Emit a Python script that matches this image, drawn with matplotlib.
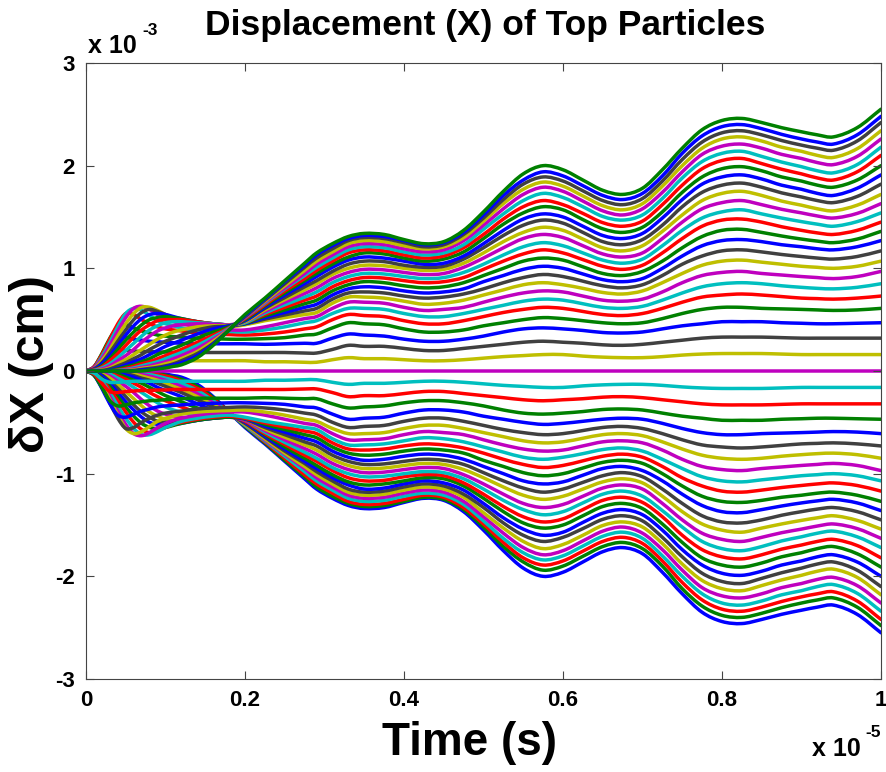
import numpy as np
import matplotlib
matplotlib.use("Agg")
import matplotlib.pyplot as plt
from matplotlib.path import Path
from matplotlib.patches import PathPatch

plt.rcParams['font.family'] = ['Liberation Sans', 'DejaVu Sans']
plt.rcParams['font.weight'] = 'bold'

# time in units of 1e-5 s, displacement in units of 1e-3 cm
# upper half of the particles (k = 1 .. 25 away from the centre); lower half is the mirror image
early_t = [0, .01, .02, .03, .04, .05, .06, .07, .08, .09, .10, .11, .12, .14, .16, .18, .20]
early_lines = [
    [0, .02, .08, .11, .11, .105, .10, .10, .10, .10, .10, .10, .10, .10, .10, .10, .10],
    [0, .03, .12, .20, .21, .20, .195, .19, .19, .185, .185, .18, .18, .18, .18, .18, .18],
    [0, .04, .16, .29, .34, .33, .31, .30, .29, .285, .28, .275, .27, .265, .265, .265, .265],
    [0, .04, .17, .32, .43, .45, .42, .39, .37, .35, .34, .335, .33, .32, .315, .31, .31],
    [0, .04, .16, .31, .46, .56, .55, .50, .46, .43, .41, .40, .39, .37, .36, .355, .35],
    [0, .03, .14, .28, .43, .56, .61, .59, .54, .49, .46, .44, .42, .40, .39, .385, .38],
    [0, .03, .12, .25, .39, .52, .61, .63, .60, .55, .51, .48, .46, .43, .41, .40, .40],
    [0, .02, .10, .21, .34, .46, .56, .62, .62, .59, .55, .52, .49, .46, .44, .43, .45],
    [0, .02, .08, .18, .29, .40, .50, .57, .60, .58, .55, .52, .50, .47, .45, .44, .46],
    [0, .015, .07, .15, .25, .35, .44, .51, .55, .56, .55, .53, .51, .48, .46, .45, .46],
    [0, .01, .05, .12, .21, .30, .38, .45, .50, .52, .53, .52, .51, .48, .46, .45, .465],
    [0, .01, .04, .10, .17, .25, .33, .40, .45, .49, .50, .50, .50, .48, .46, .45, .47],
    [0, .005, .03, .07, .13, .20, .27, .34, .40, .44, .47, .48, .48, .47, .46, .45, .47],
    [0, 0, .02, .05, .10, .15, .21, .28, .34, .39, .42, .44, .45, .46, .455, .45, .48],
    [0, 0, .01, .03, .07, .11, .16, .21, .26, .31, .35, .38, .40, .43, .44, .445, .48],
    [0, 0, .005, .02, .05, .08, .12, .16, .21, .25, .29, .32, .35, .40, .43, .44, .49],
    [0, 0, 0, .01, .03, .06, .09, .12, .16, .20, .24, .27, .30, .36, .41, .44, .49],
    [0, 0, 0, .005, .02, .04, .06, .09, .12, .16, .19, .22, .25, .32, .38, .43, .50],
    [0, 0, 0, 0, .01, .025, .045, .07, .09, .12, .15, .18, .21, .28, .35, .42, .51],
    [0, 0, 0, 0, .005, .015, .03, .05, .07, .09, .12, .15, .18, .25, .33, .415, .52],
    [0, 0, 0, 0, 0, .01, .02, .035, .05, .07, .09, .12, .15, .22, .31, .41, .52],
    [0, 0, 0, 0, 0, .005, .01, .025, .035, .05, .07, .09, .12, .19, .29, .405, .53],
    [0, 0, 0, 0, 0, 0, .005, .015, .025, .035, .05, .07, .10, .17, .27, .40, .53],
    [0, 0, 0, 0, 0, 0, 0, .01, .015, .025, .04, .06, .08, .15, .26, .40, .54],
    [0, 0, 0, 0, 0, 0, 0, 0, .01, .02, .03, .045, .06, .13, .25, .40, .55],
]

late_t = [.225, .25, .275, .29, .31, .33, .35, .375, .40, .425, .45, .475, .50, .525, .55,
          .575, .60, .625, .65, .675, .70, .725, .75, .775, .80, .825, .85, .875, .90, .92,
          .94, .97, 1.0]
# one row per time, values for k = 1 .. 25
late_rows = [
    [.09, .18, .26, .315, .36, .40, .43, .49, .505, .52, .535, .55, .565, .58, .595, .61, .62, .635, .645, .66, .67, .68, .69, .70, .71],
    [.09, .18, .265, .325, .38, .43, .47, .52, .546, .57, .595, .62, .645, .67, .695, .715, .74, .76, .78, .80, .81, .83, .85, .87, .88],
    [.085, .175, .27, .35, .41, .47, .51, .55, .585, .62, .655, .69, .72, .755, .79, .82, .85, .88, .90, .93, .95, .98, 1.01, 1.03, 1.05],
    [.085, .175, .27, .36, .43, .49, .53, .57, .61, .65, .69, .73, .77, .81, .85, .88, .92, .95, .98, 1.01, 1.04, 1.07, 1.10, 1.13, 1.15],
    [.11, .21, .32, .42, .50, .56, .61, .66, .70, .74, .78, .82, .86, .90, .94, .97, 1.01, 1.04, 1.07, 1.10, 1.13, 1.16, 1.19, 1.22, 1.24],
    [.13, .25, .36, .47, .55, .61, .67, .72, .76, .80, .84, .88, .92, .96, 1.00, 1.04, 1.08, 1.11, 1.15, 1.18, 1.21, 1.24, 1.27, 1.29, 1.31],
    [.12, .24, .35, .46, .54, .61, .67, .72, .77, .82, .87, .91, .95, .99, 1.03, 1.07, 1.11, 1.15, 1.18, 1.21, 1.24, 1.27, 1.30, 1.32, 1.34],
    [.12, .24, .34, .45, .53, .60, .66, .71, .76, .81, .86, .905, .945, .985, 1.025, 1.065, 1.10, 1.14, 1.17, 1.20, 1.23, 1.26, 1.29, 1.31, 1.33],
    [.11, .22, .31, .41, .49, .56, .62, .68, .73, .78, .83, .88, .92, .96, 1.00, 1.03, 1.07, 1.10, 1.13, 1.16, 1.19, 1.22, 1.25, 1.27, 1.28],
    [.10, .20, .29, .38, .46, .53, .59, .65, .71, .76, .81, .86, .90, .94, .98, 1.01, 1.04, 1.07, 1.10, 1.13, 1.16, 1.19, 1.21, 1.23, 1.24],
    [.10, .20, .29, .38, .46, .53, .60, .66, .72, .77, .82, .87, .91, .95, .99, 1.02, 1.05, 1.09, 1.12, 1.15, 1.18, 1.21, 1.23, 1.25, 1.26],
    [.11, .22, .31, .40, .49, .56, .62, .69, .75, .80, .86, .91, .96, 1.01, 1.05, 1.09, 1.12, 1.16, 1.20, 1.23, 1.27, 1.30, 1.33, 1.35, 1.37],
    [.125, .24, .34, .44, .53, .60, .67, .74, .80, .87, .93, .99, 1.04, 1.10, 1.15, 1.20, 1.24, 1.29, 1.33, 1.38, 1.42, 1.46, 1.49, 1.52, 1.55],
    [.14, .26, .38, .47, .57, .64, .72, .79, .86, .93, 1.00, 1.07, 1.13, 1.20, 1.26, 1.32, 1.37, 1.43, 1.48, 1.53, 1.58, 1.63, 1.67, 1.71, 1.75],
    [.15, .28, .41, .50, .60, .68, .76, .84, .91, .99, 1.07, 1.14, 1.21, 1.29, 1.35, 1.42, 1.48, 1.54, 1.60, 1.66, 1.72, 1.77, 1.82, 1.86, 1.92],
    [.16, .29, .42, .52, .62, .70, .78, .86, .94, 1.02, 1.10, 1.18, 1.25, 1.33, 1.40, 1.47, 1.53, 1.60, 1.66, 1.73, 1.79, 1.84, 1.89, 1.94, 2.00],
    [.16, .28, .41, .51, .61, .69, .77, .84, .92, 1.00, 1.08, 1.15, 1.22, 1.30, 1.37, 1.44, 1.50, 1.57, 1.62, 1.69, 1.75, 1.80, 1.85, 1.90, 1.96],
    [.145, .27, .395, .49, .58, .655, .73, .805, .875, .945, 1.015, 1.085, 1.15, 1.22, 1.285, 1.35, 1.41, 1.475, 1.535, 1.60, 1.655, 1.705, 1.755, 1.805, 1.86],
    [.135, .255, .375, .47, .55, .62, .69, .765, .83, .89, .95, 1.02, 1.08, 1.14, 1.20, 1.26, 1.32, 1.385, 1.445, 1.505, 1.56, 1.61, 1.66, 1.71, 1.76],
    [.13, .25, .37, .46, .54, .61, .68, .75, .81, .87, .93, .99, 1.05, 1.11, 1.17, 1.23, 1.29, 1.35, 1.41, 1.47, 1.52, 1.57, 1.62, 1.67, 1.72],
    [.13, .26, .38, .47, .56, .63, .70, .78, .84, .90, .97, 1.03, 1.09, 1.15, 1.22, 1.28, 1.34, 1.40, 1.46, 1.52, 1.58, 1.63, 1.68, 1.73, 1.78],
    [.14, .28, .41, .51, .61, .69, .77, .86, .93, 1.00, 1.07, 1.15, 1.22, 1.29, 1.36, 1.42, 1.49, 1.55, 1.62, 1.68, 1.74, 1.80, 1.85, 1.90, 1.96],
    [.155, .30, .44, .56, .67, .76, .86, .95, 1.04, 1.12, 1.20, 1.29, 1.37, 1.45, 1.52, 1.60, 1.67, 1.74, 1.81, 1.88, 1.94, 2.00, 2.06, 2.12, 2.17],
    [.165, .32, .46, .60, .72, .82, .93, 1.03, 1.12, 1.22, 1.31, 1.41, 1.49, 1.58, 1.66, 1.74, 1.82, 1.89, 1.97, 2.04, 2.11, 2.17, 2.23, 2.29, 2.35],
    [.17, .33, .48, .62, .74, .85, .96, 1.07, 1.17, 1.27, 1.37, 1.47, 1.55, 1.64, 1.73, 1.81, 1.89, 1.97, 2.05, 2.12, 2.19, 2.26, 2.32, 2.38, 2.44],
    [.17, .33, .48, .62, .75, .86, .97, 1.08, 1.18, 1.28, 1.38, 1.48, 1.57, 1.66, 1.75, 1.83, 1.91, 1.99, 2.07, 2.14, 2.21, 2.28, 2.34, 2.40, 2.46],
    [.17, .33, .48, .61, .74, .85, .95, 1.06, 1.16, 1.26, 1.35, 1.45, 1.53, 1.62, 1.71, 1.79, 1.87, 1.95, 2.02, 2.09, 2.17, 2.24, 2.30, 2.36, 2.42],
    [.165, .325, .47, .605, .725, .83, .935, 1.04, 1.135, 1.23, 1.315, 1.405, 1.49, 1.575, 1.655, 1.735, 1.81, 1.89, 1.965, 2.035, 2.11, 2.18, 2.245, 2.305, 2.37],
    [.16, .32, .465, .60, .71, .815, .92, 1.02, 1.115, 1.21, 1.285, 1.37, 1.455, 1.54, 1.615, 1.695, 1.77, 1.85, 1.92, 1.99, 2.07, 2.14, 2.20, 2.26, 2.33],
    [.16, .32, .46, .595, .705, .805, .91, 1.01, 1.10, 1.19, 1.265, 1.345, 1.43, 1.51, 1.58, 1.66, 1.73, 1.81, 1.88, 1.95, 2.03, 2.10, 2.17, 2.23, 2.30],
    [.16, .32, .46, .59, .70, .80, .90, 1.00, 1.09, 1.18, 1.25, 1.33, 1.41, 1.49, 1.56, 1.64, 1.71, 1.79, 1.86, 1.93, 2.01, 2.08, 2.15, 2.21, 2.28],
    [.16, .32, .465, .595, .71, .815, .92, 1.02, 1.115, 1.21, 1.285, 1.37, 1.455, 1.535, 1.615, 1.70, 1.78, 1.86, 1.94, 2.01, 2.09, 2.165, 2.24, 2.30, 2.37],
    [.16, .32, .47, .61, .73, .85, .97, 1.07, 1.17, 1.27, 1.36, 1.45, 1.54, 1.63, 1.72, 1.82, 1.91, 2.00, 2.10, 2.18, 2.26, 2.34, 2.42, 2.48, 2.55],
]

x_ticks = [0, 0.2, 0.4, 0.6, 0.8, 1]
x_tick_labels = ['0', '0.2', '0.4', '0.6', '0.8', '1']
y_ticks = [-3, -2, -1, 0, 1, 2, 3]
y_tick_labels = ['-3', '-2', '-1', '0', '1', '2', '3']

# old MATLAB colour order
matlab_colors = [(0, 0, 1), (0, 0.5, 0), (1, 0, 0), (0, 0.75, 0.75),
                 (0.75, 0, 0.75), (0.75, 0.75, 0), (0.25, 0.25, 0.25)]


def smooth_path(x, y):
    # cubic bezier pieces through the read points (drawing only, no extra data)
    x = np.asarray(x, float)
    y = np.asarray(y, float)
    n = len(x)
    m = np.empty(n)
    m[1:-1] = (y[2:] - y[:-2]) / (x[2:] - x[:-2])
    m[0] = (y[1] - y[0]) / (x[1] - x[0])
    m[-1] = (y[-1] - y[-2]) / (x[-1] - x[-2])
    verts = [(x[0], y[0])]
    codes = [Path.MOVETO]
    for i in range(n - 1):
        h = x[i + 1] - x[i]
        verts += [(x[i] + h / 3, y[i] + m[i] * h / 3),
                  (x[i + 1] - h / 3, y[i + 1] - m[i + 1] * h / 3),
                  (x[i + 1], y[i + 1])]
        codes += [Path.CURVE4] * 3
    return Path(verts, codes)


t = np.array(early_t + late_t)
late_cols = np.array(late_rows).T
upper = [np.concatenate([early_lines[k], late_cols[k]]) for k in range(25)]
n_side = len(upper)
lines = [-upper[n_side - 1 - i] for i in range(n_side)] + [np.zeros_like(t)] + upper

W, H = 887, 772
fig = plt.figure(figsize=(W / 100, H / 100), dpi=100)
ax = fig.add_axes([86 / W, (H - 679) / H, 795 / W, 616 / H])

for i, y in enumerate(lines):
    ax.add_patch(PathPatch(smooth_path(t, y), fill=False, edgecolor=matlab_colors[i % 7],
                           lw=2.5, capstyle='round', joinstyle='round'))

ax.set_xlim(0, 1)
ax.set_ylim(-3, 3)
ax.set_xticks(x_ticks)
ax.set_xticklabels(x_tick_labels)
ax.set_yticks(y_ticks)
ax.set_yticklabels(y_tick_labels)
ax.tick_params(direction='in', length=6, width=0.8, color='#444444',
               top=True, right=True, labelsize=16, pad=8)
for lab in ax.get_xticklabels() + ax.get_yticklabels():
    lab.set_fontweight('bold')
for sp in ax.spines.values():
    sp.set_linewidth(0.8)
    sp.set_color('#444444')

fig.text(485 / W, 1 - 25 / H, 'Displacement (X) of Top Particles', fontsize=25.5,
         fontweight='bold', ha='center', va='center')
ax.set_xlabel('Time (s)', fontsize=33, fontweight='bold', va='center')
ax.xaxis.set_label_coords((470 - 86) / 795, (679 - 743) / 616)
ax.set_ylabel('\u03b4X (cm)', fontsize=35, fontweight='bold', va='center')
ax.yaxis.set_label_coords((32 - 86) / 795, (679 - 364) / 616)

# axis multipliers
fig.text(88 / W, 1 - 53 / H, 'x 10', fontsize=18, fontweight='bold', ha='left', va='baseline')
fig.text(142 / W, 1 - 35 / H, '-3', fontsize=12.5, fontweight='bold', ha='left', va='baseline')
fig.text(812 / W, 1 - 756 / H, 'x 10', fontsize=18, fontweight='bold', ha='left', va='baseline')
fig.text(865 / W, 1 - 737 / H, '-5', fontsize=12.5, fontweight='bold', ha='left', va='baseline')

fig.savefig('out.png', dpi=100, facecolor='white')
